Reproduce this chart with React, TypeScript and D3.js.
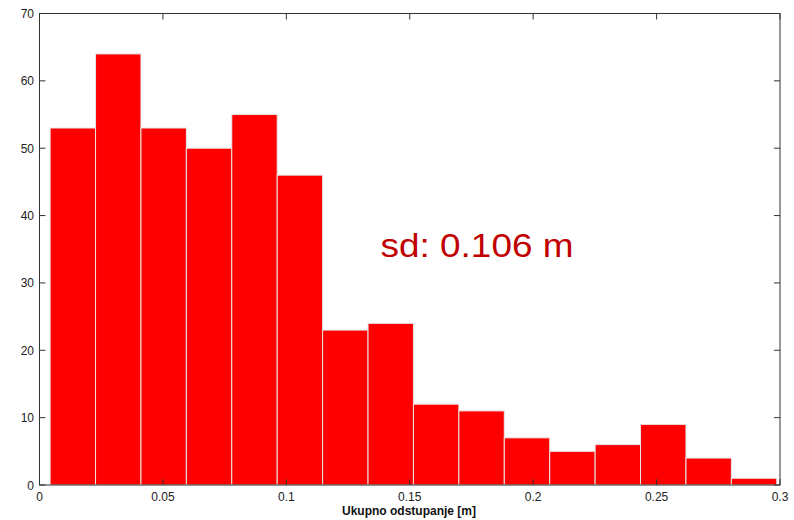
import React from "react";
import * as d3 from "d3";

// histogram bin edges (metres) and counts
const binEdges = [
  0.0043, 0.0227, 0.0411, 0.0595, 0.0779, 0.0963, 0.1147, 0.1331, 0.1515,
  0.1699, 0.1883, 0.2067, 0.2251, 0.2435, 0.2619, 0.2803, 0.2987,
];
const counts = [53, 64, 53, 50, 55, 46, 23, 24, 12, 11, 7, 5, 6, 9, 4, 1];
const xTicks = [0, 0.05, 0.1, 0.15, 0.2, 0.25, 0.3];
const yTicks = [0, 10, 20, 30, 40, 50, 60, 70];
const xLabel = "Ukupno odstupanje [m]";
const note = "sd: 0.106 m";

const W = 794;
const H = 520;
const margin = { top: 13.5, right: 14, bottom: 35, left: 39.5 };

const App = () => {
  const x = d3.scaleLinear().domain([0, 0.3]).range([margin.left, W - margin.right]);
  const y = d3.scaleLinear().domain([0, 70]).range([H - margin.bottom, margin.top]);
  const bins = counts.map((c, i) => ({ x0: binEdges[i], x1: binEdges[i + 1], c }));
  const font = "Arial, 'Liberation Sans', sans-serif";
  const x0 = x(0), x1 = x(0.3), y0 = y(0), y1 = y(70);

  return (
    <div style={{ position: "absolute", left: 0, top: 0 }}>
      <svg width={W} height={H} style={{ display: "block", background: "#fff" }}>
        {bins.map((b, i) => (
          <rect
            key={i}
            x={x(b.x0)}
            y={y(b.c)}
            width={x(b.x1) - x(b.x0)}
            height={y(0) - y(b.c)}
            fill="#ff0000"
            stroke="#e6e6e6"
            strokeWidth={1}
          />
        ))}

        {/* axes box */}
        <rect x={x0} y={y1} width={x1 - x0} height={y0 - y1} fill="none" stroke="#333" strokeWidth={1} />

        {/* x ticks, inward on bottom and top */}
        {xTicks.map((t) => (
          <g key={"x" + t}>
            <line x1={x(t)} x2={x(t)} y1={y0} y2={y0 - 6} stroke="#333" />
            <line x1={x(t)} x2={x(t)} y1={y1} y2={y1 + 6} stroke="#333" />
            <text x={x(t)} y={500.5} textAnchor="middle" fontFamily={font} fontSize={12} fill="#222">
              {String(t)}
            </text>
          </g>
        ))}

        {/* y ticks, inward on left and right */}
        {yTicks.map((t) => (
          <g key={"y" + t}>
            <line x1={x0} x2={x0 + 6} y1={y(t)} y2={y(t)} stroke="#333" />
            <line x1={x1} x2={x1 - 6} y1={y(t)} y2={y(t)} stroke="#333" />
            <text x={34} y={y(t) + 4.5} textAnchor="end" fontFamily={font} fontSize={12} fill="#222">
              {String(t)}
            </text>
          </g>
        ))}

        <text x={409} y={514.5} textAnchor="middle" fontFamily={font} fontSize={12} fontWeight="bold" fill="#111">
          {xLabel}
        </text>

        <text x={380.5} y={256.5} fontFamily={font} fontSize={33} fill="#c00000" textLength={193} lengthAdjust="spacingAndGlyphs">
          {note}
        </text>
      </svg>
    </div>
  );
};

export default App;
